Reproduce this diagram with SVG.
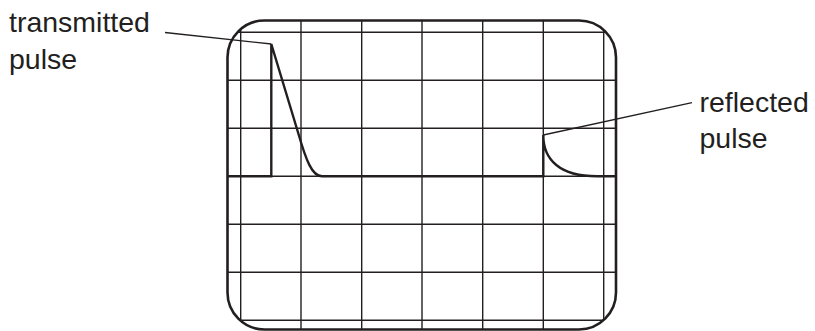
<svg xmlns="http://www.w3.org/2000/svg" width="815" height="331" viewBox="0 0 815 331">
<style>
.grid{stroke:#231f20;stroke-width:1.4;fill:none}
.frame{stroke:#231f20;stroke-width:2.6;fill:none}
.trace{stroke:#231f20;stroke-width:2.4;fill:none;stroke-linejoin:miter}
.lead{stroke:#231f20;stroke-width:1.3;fill:none}
.lbl{font-family:"Liberation Sans",Arial,sans-serif;font-size:28.5px;fill:#231f20}
</style>
<defs>
<clipPath id="screen"><rect x="227.5" y="20.5" width="388.5" height="309" rx="37" ry="37"/></clipPath>
</defs>
<g id="grid" clip-path="url(#screen)">
<path class="grid" d="M240.7,0V331M301,0V331M361.7,0V331M422,0V331M482.7,0V331M543.3,0V331M603.7,0V331M200,32.3H640M200,80.3H640M200,128.3H640M200,176.3H640M200,224.3H640M200,272.3H640M200,320.3H640"/>
</g>
<g id="trace" clip-path="url(#screen)">
<path class="trace" d="M220,176.3H271.3V44L298.5,134C306,160 312,176.3 322,176.3H543.3V135C543.3,160 560,176.3 597,176.3H630"/>
</g>
<g id="frame">
<rect class="frame" x="227.5" y="20.5" width="388.5" height="309" rx="37" ry="37"/>
</g>
<g id="connectors">
<line class="lead" x1="165" y1="32.5" x2="271.3" y2="44"/>
<line class="lead" x1="543.3" y1="135" x2="692" y2="102.7"/>
</g>
<g id="label-transmitted">
<text class="lbl" x="9" y="31.7">transmitted</text>
<text class="lbl" x="9" y="68.5">pulse</text>
</g>
<g id="label-reflected">
<text class="lbl" x="699.5" y="111.7">reflected</text>
<text class="lbl" x="699.5" y="148.3">pulse</text>
</g>
</svg>
